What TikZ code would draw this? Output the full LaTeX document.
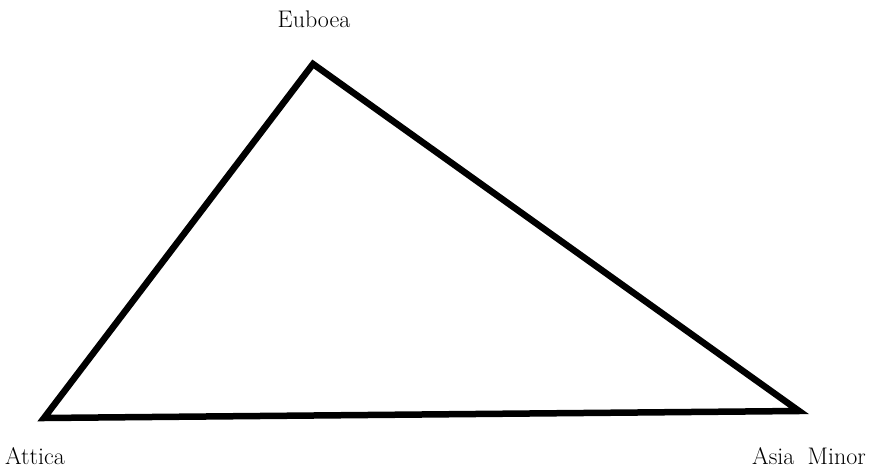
\documentclass[tikz,border=0pt]{standalone}
\begin{document}
\begin{tikzpicture}[x=1pt,y=-1pt,
  lbl/.style={inner sep=0pt,font=\fontsize{24}{28}\selectfont},
  edge/.style={line width=6.5pt,line join=miter}]
\useasboundingbox (0,0) rectangle (869,470);
\coordinate (E) at (313,64);
\coordinate (A) at (44,418);
\coordinate (M) at (799,411);
\draw[edge] (E) -- (M) -- (A) -- cycle;
\node[lbl,anchor=base] (eub) at (314,28) {Euboea};
\node[lbl,anchor=base west] (att) at (5,464) {Attica};
\node[lbl,anchor=base east] (asm) at (866,464) {Asia\hspace{0.55em}Minor};
\end{tikzpicture}
\end{document}
